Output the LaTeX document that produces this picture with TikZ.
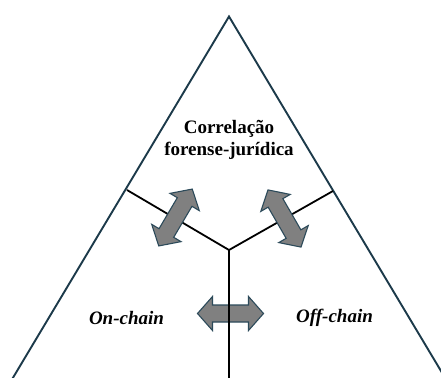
\documentclass[tikz,border=0pt]{standalone}
\usepackage{fontspec}
\setmainfont{Liberation Serif}
\definecolor{triline}{HTML}{1C3A4A}
\definecolor{arrfill}{HTML}{808080}
\definecolor{arredge}{HTML}{2C4A5A}
\tikzset{
  triedge/.style={draw=triline, line width=1.9pt},
  branch/.style={draw=black, line width=1.8pt},
  dblarrow/.style={fill=arrfill, draw=arredge, line width=1.1pt, line join=miter},
  title/.style={font=\fontsize{19}{22}\selectfont\bfseries, align=center},
  side/.style={font=\fontsize{19}{22}\selectfont\bfseries\itshape}
}
\newcommand{\dbarrow}[3]{%
  \begin{scope}[shift={(#1,#2)}, rotate=#3]
    \path[dblarrow] (-33,0) -- (-18,17) -- (-18,8.5) -- (18,8.5) -- (18,17) -- (33,0)
      -- (18,-17) -- (18,-8.5) -- (-18,-8.5) -- (-18,-17) -- cycle;
  \end{scope}}
\begin{document}
\begin{tikzpicture}[x=1pt, y=-1pt]
\useasboundingbox (0,0) rectangle (441,377);
\clip (0,0) rectangle (441,377);
\fill[white] (0,0) rectangle (441,377);
% triangle
\coordinate (A) at (229,16.5);
\coordinate (BL) at ({229-0.598*373.5},390);
\coordinate (BR) at ({229+0.598*373.5},390);
\draw[triedge, line join=miter] (BL) -- (A) -- (BR);
% branches
\coordinate (J) at (229,250);
\coordinate (L) at (127,190);
\coordinate (R) at (333,191);
\coordinate (B) at (229,390);
\draw[branch] (L) -- (J) -- (R);
% arrows
\dbarrow{175.5}{217.5}{59.5}
\dbarrow{284.5}{218.5}{-60}
\dbarrow{230.5}{313.5}{0}
\draw[branch] (J) -- (B);
% texts
\node[title] (t) at (229,140) {Correlação\\forense-jurídica};
\node[side] (on) at (126.5,318) {On-chain};
\node[side] (off) at (334.5,318) {Off-chain};
\end{tikzpicture}
\end{document}
